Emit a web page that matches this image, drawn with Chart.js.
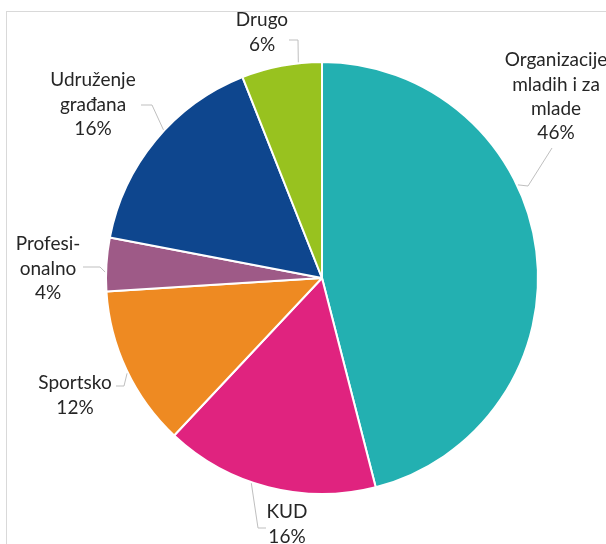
<!DOCTYPE html>
<html>
<head>
<meta charset="utf-8">
<script src="https://cdn.jsdelivr.net/npm/chart.js@4.4.1/dist/chart.umd.min.js"></script>
<style>
  html, body { margin: 0; padding: 0; background: #fff; }
  canvas { display: block; }
</style>
</head>
<body>
<canvas id="typeChart" width="606" height="544"></canvas>
<script>
// share of organisations by type (percent)
const categories = ['Organizacije mladih i za mlade', 'KUD', 'Sportsko', 'Profesionalno', 'Udruženje građana', 'Drugo'];
const labelLines = [['Organizacije', 'mladih i za', 'mlade'], ['KUD'], ['Sportsko'], ['Profesi-', 'onalno'], ['Udruženje', 'građana'], ['Drugo']];
const shares = [46, 16, 12, 4, 16, 6];
const colors = ['#23B0B1', '#E0237F', '#EE8A22', '#9E5A87', '#0E468E', '#98C21F'];

// where each data label sits, relative to the pie centre;
// t = how far along the slice the leader line touches the rim
const labelLayout = [
    { x: 234, y: -218, t: 0.39, line: [[230, -130], [206, -92]] },
    { x: -35, y: 234, t: 0.58, line: [[-56, 250], [-64, 250]] },
    { x: -247, y: 105, t: 0.48, line: [[-206, 108], [-198, 108]] },
    { x: -274, y: -34, t: 0.36, line: [[-239, -11], [-222, -11]] },
    { x: -229, y: -198, t: 0.56, line: [[-181, -173], [-170, -173]] },
    { x: -60, y: -258, t: 0.71, line: [[-33, -238], [-24, -238]] }
];

const LINE_H = 24.4;

const frame = {
    id: 'frame',
    beforeDraw(chart) {
        const ctx = chart.ctx;
        ctx.save();
        ctx.fillStyle = '#fff';
        ctx.fillRect(0, 0, chart.width, chart.height);
        ctx.strokeStyle = '#d9d9d9';
        ctx.lineWidth = 1;
        ctx.strokeRect(6.5, 11.5, chart.width + 20, chart.height + 20);
        ctx.restore();
    }
};

const sliceLabels = {
    id: 'sliceLabels',
    afterDraw(chart) {
        const ctx = chart.ctx;
        const arcs = chart.getDatasetMeta(0).data;
        ctx.save();
        ctx.font = '19px Lato, "Liberation Sans", sans-serif';
        ctx.textAlign = 'center';
        ctx.textBaseline = 'middle';
        arcs.forEach((arc, i) => {
            const lay = labelLayout[i];
            const cx = arc.x, cy = arc.y;
            const a = arc.startAngle + lay.t * (arc.endAngle - arc.startAngle);
            const r = arc.outerRadius + 1;

            // leader line: label side -> elbow -> rim of the slice
            ctx.strokeStyle = '#bfbfbf';
            ctx.lineWidth = 1;
            ctx.beginPath();
            ctx.moveTo(cx + lay.line[0][0], cy + lay.line[0][1]);
            ctx.lineTo(cx + lay.line[1][0], cy + lay.line[1][1]);
            ctx.lineTo(cx + Math.cos(a) * r, cy + Math.sin(a) * r);
            ctx.stroke();

            const lines = labelLines[i].concat([shares[i] + '%']);
            ctx.fillStyle = '#262626';
            lines.forEach((txt, k) => {
                ctx.fillText(txt, cx + lay.x, cy + lay.y + k * LINE_H);
            });
        });
        ctx.restore();
    }
};

new Chart(document.getElementById('typeChart').getContext('2d'), {
    type: 'pie',
    data: {
        labels: categories,
        datasets: [{
            data: shares,
            backgroundColor: colors,
            borderColor: '#fff',
            borderWidth: 2
        }]
    },
    options: {
        responsive: false,
        animation: false,
        layout: { padding: { left: 105, right: 67, top: 61, bottom: 49 } },
        plugins: {
            legend: { display: false },
            tooltip: { enabled: false }
        }
    },
    plugins: [frame, sliceLabels]
});
</script>
</body>
</html>
